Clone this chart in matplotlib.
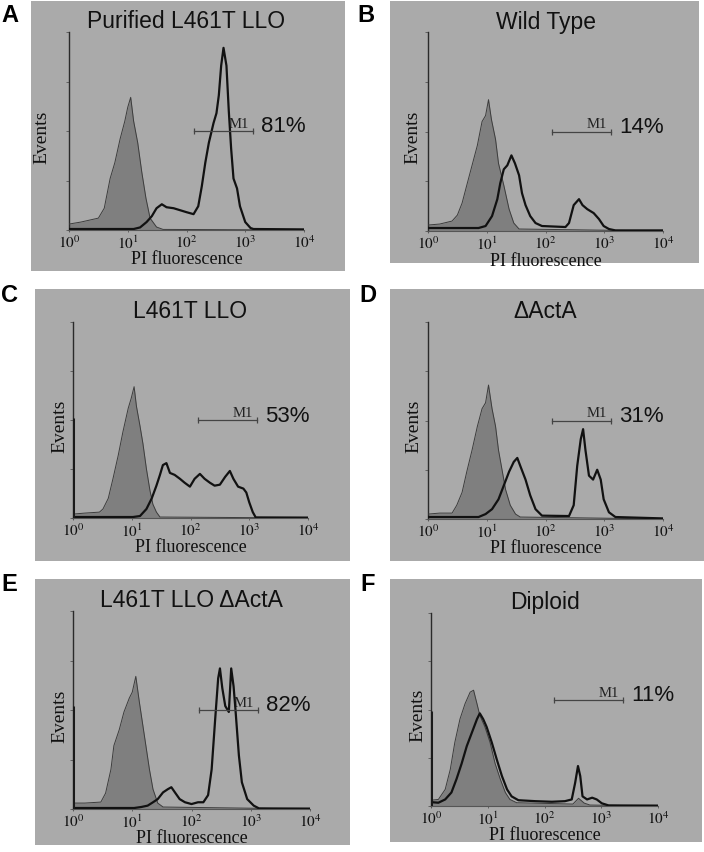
import matplotlib
matplotlib.use("Agg")
import matplotlib.pyplot as plt
import numpy as np
from matplotlib.patches import Rectangle

plt.rcParams['mathtext.fontset'] = 'stix'

W, H = 704, 853

# values: x in log10(PI fluorescence), y in % of axis height
# control (filled grey) curves
a_ctrl_x = [0.0, 0.2, 0.35, 0.5, 0.6, 0.7, 0.78, 0.87, 0.95, 1.0, 1.05, 1.1, 1.17, 1.24, 1.31, 1.38, 1.49, 1.6, 4.0]
a_ctrl_y = [3, 4, 5, 6, 11, 26, 34, 46, 55, 62, 67, 55, 44, 29, 16, 6, 1.5, 0.3, 0]
b_ctrl_x = [0.0, 0.2, 0.41, 0.5, 0.58, 0.66, 0.75, 0.84, 0.92, 0.98, 1.03, 1.08, 1.15, 1.2, 1.29, 1.38, 1.46, 1.55, 4.0]
b_ctrl_y = [3, 3.5, 5, 8, 14, 23, 33, 43, 55, 58, 66, 56, 46, 34, 23, 11, 4, 1, 0]
c_ctrl_x = [0.0, 0.2, 0.45, 0.51, 0.6, 0.68, 0.77, 0.85, 0.94, 0.99, 1.04, 1.08, 1.14, 1.19, 1.25, 1.31, 1.36, 1.42, 1.48, 4.0]
c_ctrl_y = [2, 2.5, 3, 4.6, 10, 20, 32, 44, 56, 61, 67, 57, 47, 38, 25, 14, 7, 3, 0.5, 0]
d_ctrl_x = [0.0, 0.2, 0.41, 0.49, 0.58, 0.66, 0.75, 0.84, 0.92, 0.98, 1.03, 1.09, 1.15, 1.2, 1.26, 1.32, 1.4, 1.49, 1.57, 4.0]
d_ctrl_y = [2.5, 3, 3, 7, 13.5, 24, 35, 47, 56, 59, 68, 56, 47, 35, 25, 15, 7, 2.5, 1, 0]
e_ctrl_x = [0.0, 0.2, 0.47, 0.55, 0.64, 0.69, 0.78, 0.86, 0.95, 1.0, 1.06, 1.12, 1.18, 1.23, 1.29, 1.35, 1.43, 1.52, 4.0]
e_ctrl_y = [3, 3, 3.5, 8, 20, 32, 40, 49, 56, 59, 67, 54, 42, 32, 20, 10, 3, 1, 0]
f_ctrl_x = [0.0, 0.13, 0.25, 0.34, 0.42, 0.51, 0.6, 0.69, 0.75, 0.81, 0.86, 0.95, 1.04, 1.13, 1.22, 1.31, 1.39, 1.51, 2.5, 2.6, 2.7, 2.8, 4.0]
f_ctrl_y = [3, 3.4, 8.6, 19, 33, 45, 53, 59, 60, 53, 47, 41, 33, 22, 14, 7, 3.4, 1.7, 1, 4, 1.5, 0.5, 0]

# sample (black outline) curves
a_samp_x = [0.0, 1.1, 1.21, 1.32, 1.41, 1.49, 1.58, 1.66, 1.78, 1.89, 2.0, 2.12, 2.2, 2.26, 2.32, 2.38, 2.46, 2.51, 2.55, 2.59, 2.63, 2.68, 2.72, 2.76, 2.8, 2.86, 2.91, 3.0, 3.09, 3.14, 4.0]
a_samp_y = [0.5, 0.5, 1.3, 4, 7, 11, 13, 11.5, 11, 10, 9, 8, 12, 22, 34, 44, 54, 59, 68, 83, 92, 83, 60, 41, 26, 21, 12, 4, 1, 0.5, 0.3]
b_samp_x = [0.0, 0.86, 0.98, 1.09, 1.18, 1.23, 1.29, 1.35, 1.42, 1.48, 1.55, 1.6, 1.66, 1.74, 1.83, 1.94, 2.34, 2.4, 2.48, 2.57, 2.63, 2.71, 2.82, 2.91, 2.99, 3.08, 3.19, 4.0]
b_samp_y = [1.5, 1.5, 2.5, 7.5, 16, 24, 31, 33, 38, 34, 28, 19, 13, 7.5, 4, 2.5, 2, 4, 13, 16, 13, 11, 9, 6, 2.5, 1, 0.3, 0.3]
c_samp_x = [0.0, 1.02, 1.14, 1.25, 1.34, 1.42, 1.48, 1.53, 1.59, 1.65, 1.73, 1.82, 1.9, 1.99, 2.07, 2.16, 2.24, 2.33, 2.41, 2.5, 2.59, 2.67, 2.73, 2.81, 2.9, 2.95, 3.0, 3.06, 3.11, 4.0]
c_samp_y = [0.5, 0.5, 1, 4.6, 10, 16.5, 22, 27, 28, 23, 22, 20, 18, 16, 20, 22.5, 20, 18, 16.5, 17, 21, 24, 20, 16, 15, 13, 8, 3, 0.3, 0.2]
d_samp_x = [0.0, 0.86, 0.98, 1.09, 1.2, 1.29, 1.38, 1.46, 1.52, 1.57, 1.66, 1.74, 1.83, 1.94, 2.4, 2.48, 2.54, 2.6, 2.64, 2.68, 2.74, 2.81, 2.88, 2.94, 2.99, 3.08, 3.19, 4.0]
d_samp_y = [1, 1, 2.5, 5, 10, 17, 24, 29, 31, 27, 20, 12, 5, 1.7, 1.5, 7, 27, 40.5, 45.6, 35, 22, 20, 25, 20, 10, 3.4, 1, 0.3]
e_samp_x = [0.0, 1.03, 1.15, 1.26, 1.35, 1.43, 1.52, 1.6, 1.66, 1.72, 1.8, 1.89, 2.0, 2.11, 2.2, 2.28, 2.34, 2.4, 2.45, 2.48, 2.52, 2.57, 2.63, 2.67, 2.71, 2.74, 2.8, 2.85, 2.94, 3.05, 3.14, 4.0]
e_samp_y = [0.5, 0.5, 1, 1.7, 3.4, 5, 8.4, 10, 11, 8.4, 5, 3.4, 2.5, 3.4, 3.4, 7, 20, 45.5, 66, 71, 61, 52, 49, 71, 62, 51, 27, 13.5, 5, 1.7, 0.3, 0.2]
f_samp_x = [0.0, 0.13, 0.25, 0.36, 0.45, 0.54, 0.63, 0.72, 0.81, 0.86, 0.92, 0.98, 1.07, 1.16, 1.25, 1.34, 1.42, 1.54, 1.84, 2.13, 2.36, 2.48, 2.54, 2.59, 2.63, 2.67, 2.75, 2.84, 2.92, 3.01, 3.13, 4.0]
f_samp_y = [2, 1.7, 3.4, 7, 14, 22, 31, 38, 45, 48, 45, 41, 33, 24, 15.5, 8.6, 5, 3, 2.5, 2.2, 2.5, 3.4, 12, 20.7, 15.5, 5, 3.4, 4.3, 3.4, 1.4, 0.3, 0.2]

# events piled into the first channel (drawn on the y axis)
first_bin = [0, 0, 51, 0, 52, 49]

# M1 gate (log10 limits, height %) and percentages
gate_lo = [2.12, 2.11, 2.12, 2.11, 2.12, 2.17]
gate_hi = [3.13, 3.12, 3.13, 3.12, 3.13, 3.39]
gate_y = [50, 50, 50, 50, 50, 55]
pct_labels = ["81%", "14%", "53%", "31%", "82%", "11%"]

titles = ["Purified L461T LLO", "Wild Type", "L461T LLO", "\u0394ActA", "L461T LLO \u0394ActA", "Diploid"]
letters = ["A", "B", "C", "D", "E", "F"]
tick_exps = [0, 1, 2, 3, 4]

ctrl = [(a_ctrl_x, a_ctrl_y), (b_ctrl_x, b_ctrl_y), (c_ctrl_x, c_ctrl_y),
        (d_ctrl_x, d_ctrl_y), (e_ctrl_x, e_ctrl_y), (f_ctrl_x, f_ctrl_y)]
samp = [(a_samp_x, a_samp_y), (b_samp_x, b_samp_y), (c_samp_x, c_samp_y),
        (d_samp_x, d_samp_y), (e_samp_x, e_samp_y), (f_samp_x, f_samp_y)]

# layout in pixels: grey box (x0, y0, x1, y1), axes (left, top, right, bottom), letter (x, y), ylabel gap
boxes = [(31, 2, 345, 272), (390, 2, 699, 264), (35, 290, 350, 562),
         (390, 290, 704, 562), (35, 580, 350, 846), (390, 580, 702, 843)]
axpos = [(69, 33, 304, 231), (428, 33, 663, 232), (73, 323, 308, 519),
         (428, 323, 663, 520), (73, 612, 310, 810), (431, 614, 658, 807)]
letter_pos = [(10, 16), (366, 15), (9, 295), (368, 295), (9, 585), (368, 585)]
ylab_gap = [27, 15, 13, 14, 13, 13]

bg = "#aaaaaa"
fillc = "#7f7f7f"
sans = ["Liberation Sans", "DejaVu Sans"]
serif = ["Liberation Serif", "DejaVu Serif"]

fig = plt.figure(figsize=(W / 100, H / 100), dpi=100)

for i in range(6):
    x0, y0, x1, y1 = boxes[i]
    fig.add_artist(Rectangle((x0 / W, 1 - y1 / H), (x1 - x0) / W, (y1 - y0) / H,
                             transform=fig.transFigure, facecolor=bg, edgecolor="none", zorder=-1))
    l, t, r, b = axpos[i]
    ax = fig.add_axes([l / W, 1 - b / H, (r - l) / W, (b - t) / H])
    ax.patch.set_alpha(0)

    cx, cy = ctrl[i]
    sx, sy = samp[i]
    cxv = 10 ** np.array(cx)
    sxv = 10 ** np.array(sx)
    ax.fill_between(cxv, cy, 0, color=fillc, lw=0, zorder=2)
    ax.plot(cxv, cy, color="#3c3c3c", lw=0.7, zorder=3)
    ax.plot(sxv, sy, color="#111111", lw=1.6, zorder=4)
    if first_bin[i] > 0:
        ax.vlines(1, 0, first_bin[i], color="#1a1a1a", lw=2.2, zorder=5)

    # gate
    lo, hi = 10 ** gate_lo[i], 10 ** gate_hi[i]
    ax.plot([lo, hi], [gate_y[i], gate_y[i]], color="#444444", lw=0.9, zorder=6)
    ax.plot([lo, hi], [gate_y[i], gate_y[i]], ls="none", marker="|", ms=4, mew=0.9, color="#444444", zorder=6)
    ax.annotate("M1", xy=(hi, gate_y[i]), xytext=(-4, 1), textcoords="offset pixels",
                ha="right", va="bottom", fontsize=10.5, family=serif, color="#222222")
    ax.annotate(pct_labels[i], xy=(hi, gate_y[i]), xytext=(8, 5), textcoords="offset pixels",
                ha="left", va="center", fontsize=16, family=sans, color="#111111")

    ax.set_xscale("log")
    ax.set_xlim(1, 1e4)
    ax.set_ylim(0, 100)
    ax.set_xticks([10 ** e for e in tick_exps])
    ax.set_xticklabels(["$10^{%d}$" % e for e in tick_exps], fontsize=11)
    ax.xaxis.set_minor_locator(matplotlib.ticker.NullLocator())
    ax.set_yticks([0, 25, 50, 75, 100])
    ax.set_yticklabels([])
    ax.tick_params(axis="y", length=2.5, width=0.6, color="#555555")
    ax.tick_params(axis="x", length=1.5, width=0.6, color="#555555", pad=1, labelcolor="#111111")
    for s in ["top", "right"]:
        ax.spines[s].set_visible(False)
    ax.spines["left"].set_color("#2a2a2a")
    ax.spines["left"].set_linewidth(1.0)
    ax.spines["bottom"].set_color("#555555")
    ax.spines["bottom"].set_linewidth(0.8)

    ax.annotate(titles[i], xy=(0.5, 1), xycoords="axes fraction", xytext=(0, 11),
                textcoords="offset pixels", ha="center", va="center", fontsize=16.5,
                family=sans, color="#111111")
    ax.annotate("PI fluorescence", xy=(0.5, 0), xycoords="axes fraction", xytext=(0, -29),
                textcoords="offset pixels", ha="center", va="center", fontsize=13,
                family=serif, color="#111111")
    ax.annotate("Events", xy=(0, 0.5), xycoords="axes fraction", xytext=(-ylab_gap[i], -5),
                textcoords="offset pixels", ha="center", va="center", rotation=90,
                fontsize=14, family=serif, color="#111111")

    lx, ly = letter_pos[i]
    fig.text(lx / W, 1 - ly / H, letters[i], ha="center", va="center", fontsize=17,
             fontweight="bold", family=sans)

fig.savefig("out.png", dpi=100)
